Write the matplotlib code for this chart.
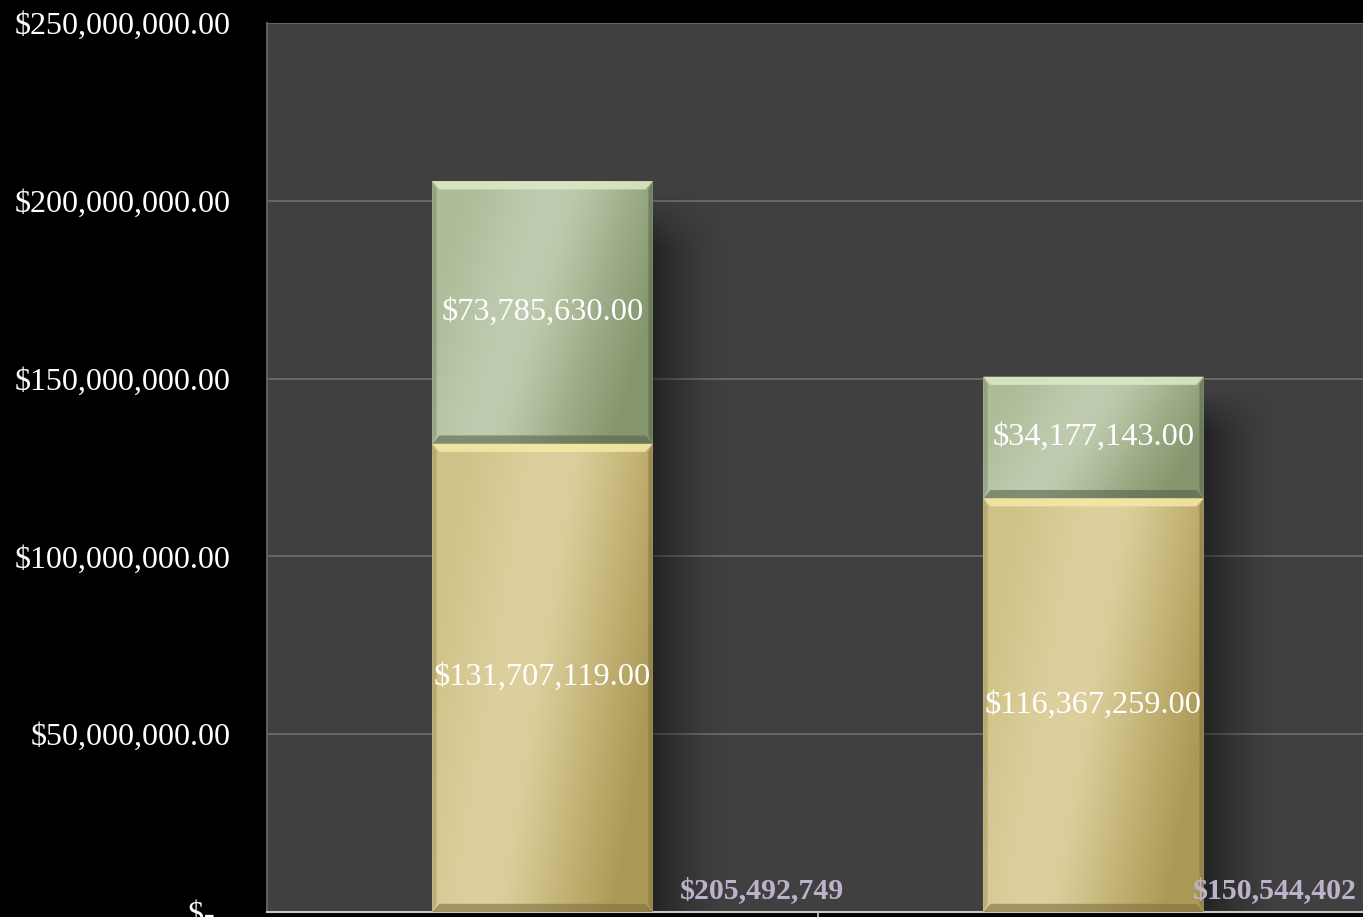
import numpy as np
import matplotlib
matplotlib.use("Agg")
import matplotlib.pyplot as plt
from matplotlib.colors import to_rgb
from matplotlib.patches import Polygon

# ---- data ----
categories = ["A", "B"]
series1 = [131707119.00, 116367259.00]   # gold (bottom)
series2 = [73785630.00, 34177143.00]     # green (top)
totals = [205492749, 150544402]
ytick_vals = [0, 50e6, 100e6, 150e6, 200e6, 250e6]
ytick_labels = ["$-  ", "$50,000,000.00", "$100,000,000.00", "$150,000,000.00",
                "$200,000,000.00", "$250,000,000.00"]
total_x_offsets = [0.398, 0.329]

W, H = 1363, 917
fig = plt.figure(figsize=(W / 100, H / 100), dpi=100, facecolor="black")
ax = fig.add_axes([267 / W, 1 - 912 / H, (1369 - 267) / W, (912 - 23) / H])
ax.set_facecolor("#404040")

serif = ["Liberation Serif", "DejaVu Serif"]

x = np.arange(len(categories))
bw = 0.4
ax.set_xlim(-0.5, len(categories) - 0.5)
ax.set_ylim(0, 250e6)

ax.set_yticks(ytick_vals)
ax.set_yticklabels(ytick_labels, family=serif, fontsize=23, color="white")
ax.tick_params(axis="y", length=0, pad=26)
ax.yaxis.grid(True, color="#6c6c6c", linewidth=1.3, zorder=0)
ax.set_axisbelow(True)
ax.set_xticks([0.5])
ax.set_xticklabels([""])
ax.tick_params(axis="x", length=8, color="#c8c8c8", width=1.2)
for s in ["top", "right"]:
    ax.spines[s].set_visible(False)
ax.spines["left"].set_color("#5e5e5e")
ax.spines["left"].set_linewidth(1.5)
ax.spines["bottom"].set_color("#c8c8c8")
ax.spines["bottom"].set_linewidth(1.5)

b1 = ax.bar(x, series1, width=bw, color="#D0C184", zorder=3)
b2 = ax.bar(x, series2, width=bw, bottom=series1, color="#A9B892", zorder=3)

def gradient_img(light, mid, dark, n=200, m=100):
    light, mid, dark = map(np.array, map(to_rgb, (light, mid, dark)))
    u = np.linspace(0, 1, n)[None, :]
    v = np.linspace(0, 1, m)[:, None]
    t = u + 0.35 * (v - 0.5)
    t = np.clip(t, 0, 1)
    band = np.exp(-((t - 0.38) / 0.35) ** 2)
    edge = np.clip((t - 0.45) / 0.55, 0, 1) ** 1.5
    img = mid[None, None, :] * (1 - band[..., None]) + light[None, None, :] * band[..., None]
    img = img * (1 - edge[..., None] * 0.85) + dark[None, None, :] * edge[..., None] * 0.85
    return img

def draw_shadow(rect_top):
    x0 = rect_top.get_x() + rect_top.get_width()
    top = rect_top.get_y() + rect_top.get_height()
    n, m = 120, 200
    u = np.linspace(0, 1, n)[None, :]
    v = np.linspace(0, 1, m)[:, None]
    alpha = 0.45 * (1 - u) ** 1.6 * np.clip(v / 0.08, 0, 1)
    img = np.zeros((m, n, 4))
    img[..., 3] = alpha
    ax.imshow(img, extent=(x0, x0 + 0.14, 0, top - 3e6), aspect="auto",
              origin="upper", zorder=2, interpolation="bilinear")

def shade_bar(rect, light, mid, dark, hilite, lowcol):
    x0, y0 = rect.get_x(), rect.get_y()
    w, h = rect.get_width(), rect.get_height()
    img = gradient_img(light, mid, dark)
    im = ax.imshow(img, extent=(x0, x0 + w, y0, y0 + h), aspect="auto",
                   origin="upper", zorder=4, interpolation="bilinear")
    im.set_clip_path(rect)
    bx = 0.013
    by = 2.3e6
    ax.add_patch(Polygon([(x0, y0 + h), (x0 + w, y0 + h), (x0 + w - bx, y0 + h - by),
                          (x0 + bx, y0 + h - by)], closed=True, color=hilite,
                         lw=0, zorder=5, alpha=0.85))
    ax.add_patch(Polygon([(x0, y0), (x0 + w, y0), (x0 + w - bx, y0 + by),
                          (x0 + bx, y0 + by)], closed=True, color=lowcol,
                         lw=0, zorder=5, alpha=0.6))
    ax.add_patch(Polygon([(x0, y0), (x0 + bx * 0.6, y0 + by), (x0 + bx * 0.6, y0 + h - by),
                          (x0, y0 + h)], closed=True, color=lowcol, lw=0, zorder=5, alpha=0.3))
    ax.add_patch(Polygon([(x0 + w, y0), (x0 + w - bx * 0.6, y0 + by),
                          (x0 + w - bx * 0.6, y0 + h - by), (x0 + w, y0 + h)],
                         closed=True, color=lowcol, lw=0, zorder=5, alpha=0.55))

for r2 in b2:
    draw_shadow(r2)
for r in b1:
    shade_bar(r, "#DDD09E", "#CDBD80", "#A6944F", "#F6E9A6", "#7E7040")
for r in b2:
    shade_bar(r, "#BECBAE", "#A7B690", "#7F9068", "#DDEAC6", "#56634A")

for i in range(len(categories)):
    ax.text(x[i], series1[i] / 2, f"${series1[i]:,.2f}", ha="center", va="center",
            color="white", fontsize=23.3, family=serif, zorder=6)
    ax.text(x[i], series1[i] + series2[i] / 2, f"${series2[i]:,.2f}", ha="center",
            va="center", color="white", fontsize=23.3, family=serif, zorder=6)
    ax.text(x[i] + total_x_offsets[i], 5.9e6, f"${totals[i]:,}", ha="center", va="center",
            color="#BDB2CC", fontsize=21.5, fontweight="bold", family=serif, zorder=6)

fig.savefig("out.png", dpi=100, facecolor="black")
